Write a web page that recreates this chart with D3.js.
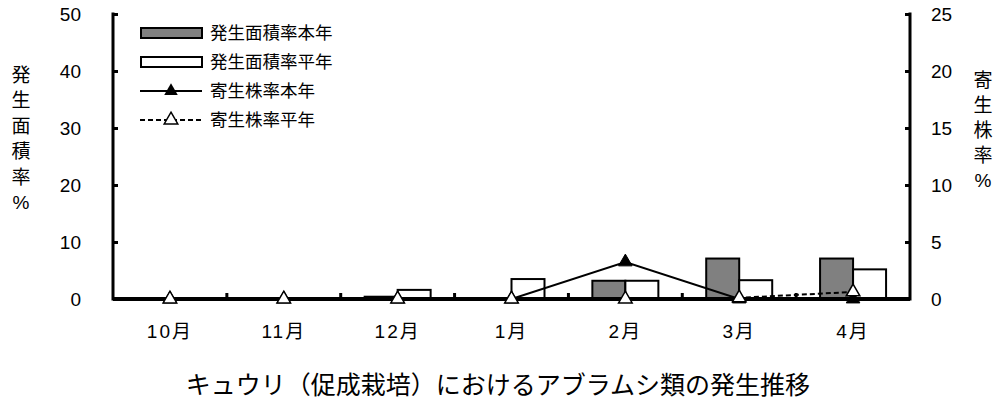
<!DOCTYPE html>
<html>
<head>
<meta charset="utf-8">
<script src="https://cdn.jsdelivr.net/npm/d3@7"></script>
<style>
  body { margin: 0; background: #fff; }
  svg { display: block; }
  text { font-family: "Liberation Sans", "Noto Sans CJK JP", sans-serif; fill: #000; }
</style>
</head>
<body>
<div class="canvas"></div>
<script>
// data
const months = ['10月', '11月', '12月', '1月', '2月', '3月', '4月']
const areaThisYear = [0, 0, 0.4, 0, 3.2, 7.1, 7.1]     // 発生面積率本年
const areaNormal = [0, 0, 1.6, 3.5, 3.2, 3.3, 5.2]     // 発生面積率平年
const parasThisYear = [0, 0, 0, 0, 3.25, 0, 0]         // 寄生株率本年
const parasNormal = [0, 0, 0, 0, 0, 0.1, 0.62]         // 寄生株率平年
const leftTicks = [0, 10, 20, 30, 40, 50]
const rightTicks = [0, 5, 10, 15, 20, 25]

const svg = d3.select('.canvas')
    .append('svg')
    .attr('width', 998)
    .attr('height', 410)

const plotLeft = 113, plotRight = 910, plotTop = 14, plotBottom = 299

const x = d3.scaleBand()
    .domain(months)
    .range([plotLeft, plotRight])
    .padding(0)

const y = d3.scaleLinear().domain([0, 50]).range([plotBottom, plotTop])
const y2 = d3.scaleLinear().domain([0, 25]).range([plotBottom, plotTop])

const barW = 33
const cx = m => x(m) + x.bandwidth() / 2

// bars
const graph = svg.append('g')
graph.selectAll('rect.this')
    .data(months)
    .enter()
    .append('rect')
    .attr('class', 'this')
    .attr('x', d => cx(d) - barW)
    .attr('y', (d, i) => y(areaThisYear[i]))
    .attr('width', barW)
    .attr('height', (d, i) => plotBottom - y(areaThisYear[i]))
    .attr('fill', '#808080')
    .attr('stroke', '#000')
    .attr('stroke-width', 2)

graph.selectAll('rect.norm')
    .data(months)
    .enter()
    .append('rect')
    .attr('class', 'norm')
    .attr('x', d => cx(d))
    .attr('y', (d, i) => y(areaNormal[i]))
    .attr('width', barW)
    .attr('height', (d, i) => plotBottom - y(areaNormal[i]))
    .attr('fill', '#fff')
    .attr('stroke', '#000')
    .attr('stroke-width', 2)

// axes
const yAxis = d3.axisRight(y).tickValues(leftTicks).tickSize(5).tickFormat('')
const yAxis2 = d3.axisLeft(y2).tickValues(rightTicks).tickSize(5).tickFormat('')

const axisStyle = g => {
  g.select('.domain').remove()
  g.selectAll('line').attr('stroke', '#000').attr('stroke-width', 3)
}

svg.append('g').attr('transform', `translate(${plotLeft},0)`).call(yAxis).call(axisStyle)
svg.append('g').attr('transform', `translate(${plotRight},0)`).call(yAxis2).call(axisStyle)

// frame lines
svg.append('line').attr('x1', plotLeft).attr('x2', plotLeft).attr('y1', plotTop - 1.5).attr('y2', plotBottom + 1.5)
    .attr('stroke', '#000').attr('stroke-width', 3)
svg.append('line').attr('x1', plotRight).attr('x2', plotRight).attr('y1', plotTop - 1.5).attr('y2', plotBottom + 1.5)
    .attr('stroke', '#000').attr('stroke-width', 3)
svg.append('line').attr('x1', plotLeft).attr('x2', plotRight).attr('y1', plotBottom).attr('y2', plotBottom)
    .attr('stroke', '#000').attr('stroke-width', 4)

// category boundary ticks on the bottom axis
svg.selectAll('line.xtick')
    .data(months.slice(1))
    .enter()
    .append('line')
    .attr('class', 'xtick')
    .attr('x1', d => x(d)).attr('x2', d => x(d))
    .attr('y1', plotBottom).attr('y2', plotBottom - 6)
    .attr('stroke', '#000').attr('stroke-width', 3)

// tick labels
svg.selectAll('text.yl')
    .data(leftTicks)
    .enter()
    .append('text')
    .attr('class', 'yl')
    .attr('x', 81)
    .attr('y', d => y(d))
    .attr('dy', '0.35em')
    .attr('text-anchor', 'end')
    .style('font-size', '19px')
    .text(d => d)

svg.selectAll('text.yr')
    .data(rightTicks)
    .enter()
    .append('text')
    .attr('class', 'yr')
    .attr('x', 931)
    .attr('y', d => y2(d))
    .attr('dy', '0.35em')
    .style('font-size', '19px')
    .text(d => d)

svg.selectAll('text.xl')
    .data(months)
    .enter()
    .append('text')
    .attr('class', 'xl')
    .attr('x', d => cx(d))
    .attr('y', 331)
    .attr('dy', '0.35em')
    .attr('text-anchor', 'middle')
    .style('font-size', '19px')
    .style('letter-spacing', '2px')
    .text(d => d)

// lines
const line = d3.line()
    .x((d, i) => cx(months[i]))
    .y(d => y2(d))

svg.append('path')
    .datum(parasThisYear)
    .attr('d', line)
    .attr('fill', 'none')
    .attr('stroke', '#000')
    .attr('stroke-width', 2)

svg.append('path')
    .datum(parasNormal)
    .attr('d', line)
    .attr('fill', 'none')
    .attr('stroke', '#000')
    .attr('stroke-width', 2)
    .attr('stroke-dasharray', '5,3')

const tri = d3.symbol().type(d3.symbolTriangle).size(80)

svg.selectAll('path.mThis')
    .data(parasThisYear)
    .enter()
    .append('path')
    .attr('class', 'mThis')
    .attr('d', tri)
    .attr('transform', (d, i) => `translate(${cx(months[i])},${y2(d)})`)
    .attr('fill', '#000')
    .attr('stroke', '#000')
    .attr('stroke-width', 1)

svg.selectAll('path.mNorm')
    .data(parasNormal)
    .enter()
    .append('path')
    .attr('class', 'mNorm')
    .attr('d', tri)
    .attr('transform', (d, i) => `translate(${cx(months[i])},${y2(d)})`)
    .attr('fill', '#fff')
    .attr('stroke', '#000')
    .attr('stroke-width', 1.5)

// legend
const legend = svg.append('g')
const rows = [33, 62, 91, 120]
const names = ['発生面積率本年', '発生面積率平年', '寄生株率本年', '寄生株率平年']

legend.append('rect').attr('x', 141).attr('y', rows[0] - 5).attr('width', 61).attr('height', 10)
    .attr('fill', '#808080').attr('stroke', '#000').attr('stroke-width', 2)
legend.append('rect').attr('x', 141).attr('y', rows[1] - 5).attr('width', 61).attr('height', 10)
    .attr('fill', '#fff').attr('stroke', '#000').attr('stroke-width', 2)
legend.append('line').attr('x1', 140).attr('x2', 202).attr('y1', rows[2]).attr('y2', rows[2])
    .attr('stroke', '#000').attr('stroke-width', 2)
legend.append('path').attr('d', tri).attr('transform', `translate(171,${rows[2]})`)
    .attr('fill', '#000')
legend.append('line').attr('x1', 140).attr('x2', 202).attr('y1', rows[3]).attr('y2', rows[3])
    .attr('stroke', '#000').attr('stroke-width', 2).attr('stroke-dasharray', '5,3')
legend.append('path').attr('d', tri).attr('transform', `translate(171,${rows[3]})`)
    .attr('fill', '#fff').attr('stroke', '#000').attr('stroke-width', 1.5)

legend.selectAll('text')
    .data(names)
    .enter()
    .append('text')
    .attr('x', 210)
    .attr('y', (d, i) => rows[i])
    .attr('dy', '0.35em')
    .style('font-size', '17.5px')
    .text(d => d)

// axis titles (vertical)
const leftTitle = ['発', '生', '面', '積', '率', '%']
svg.selectAll('text.lt')
    .data(leftTitle)
    .enter()
    .append('text')
    .attr('class', 'lt')
    .attr('x', 21)
    .attr('y', (d, i) => 75 + i * 25.5)
    .attr('dy', '0.35em')
    .attr('text-anchor', 'middle')
    .style('font-size', '19px')
    .text(d => d)

const rightTitle = ['寄', '生', '株', '率', '%']
svg.selectAll('text.rt')
    .data(rightTitle)
    .enter()
    .append('text')
    .attr('class', 'rt')
    .attr('x', 983)
    .attr('y', (d, i) => 80 + i * 25)
    .attr('dy', '0.35em')
    .attr('text-anchor', 'middle')
    .style('font-size', '19px')
    .text(d => d)

// chart title
svg.append('text')
    .attr('x', 498)
    .attr('y', 385)
    .attr('dy', '0.35em')
    .attr('text-anchor', 'middle')
    .style('font-family', '"Noto Sans CJK JP", sans-serif')
    .style('font-size', '25px')
    .text('キュウリ（促成栽培）におけるアブラムシ類の発生推移')
</script>
</body>
</html>
